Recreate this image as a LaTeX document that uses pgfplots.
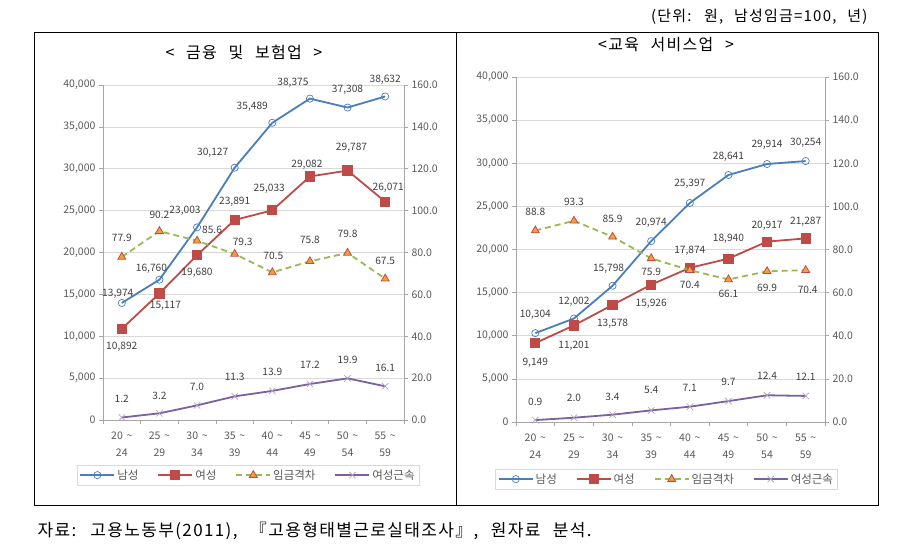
\documentclass[border=0pt]{standalone}
\usepackage{pgfplots}
\pgfplotsset{compat=1.18}
\usepackage{fontspec}
\setmainfont[WordSpace=1.6]{Noto Sans CJK KR}
\newfontfamily\widefont[WordSpace=2.4, LetterSpace=8]{Noto Sans CJK KR}
\definecolor{cBlue}{HTML}{4A7EBB}
\definecolor{cRed}{HTML}{BE4B48}
\definecolor{cGreen}{HTML}{98B954}
\definecolor{cOrange}{HTML}{F7A035}
\definecolor{cPurple}{HTML}{7D60A0}
\definecolor{cTxt}{HTML}{404040}
\definecolor{cTick}{HTML}{595959}
\definecolor{cAxis}{HTML}{A6A6A6}
\definecolor{cGrid}{HTML}{D9D9D9}
\pgfplotsset{
  base/.style={
    scale only axis, xmin=-0.5, xmax=7.5, clip=false,
    /pgf/number format/assume math mode=true,
    tick label style={font=\fontsize{10.5}{12}\selectfont, text=cTick},
    axis line style={cAxis, line width=0.6pt},
    major tick length=4pt, tick align=outside,
    tick style={cAxis, line width=0.6pt},
  },
  lbl/.style={
    nodes near coords,
    visualization depends on={value \thisrow{dx}\as\dx},
    visualization depends on={value \thisrow{dy}\as\dy},
    every node near coord/.append style={anchor=center, xshift=\dx pt, yshift=\dy pt,
      font=\fontsize{10.2}{12}\selectfont, text=cTxt, inner sep=0pt},
  },
  sMale/.style={cBlue, line width=1.8pt, mark=o, mark size=3.6pt, mark options={line width=0.7pt, fill=none, solid}},
  sFemale/.style={cRed, line width=1.8pt, mark=square*, mark size=4.2pt, mark options={solid, fill=cRed, draw=cRed}},
  sGap/.style={cGreen, line width=1.8pt, dash pattern=on 6pt off 4pt, mark=triangle*, mark size=4.5pt, mark options={solid, fill=cOrange, draw=cRed, line width=0.8pt}},
  sTen/.style={cPurple, line width=1.8pt, mark=x, mark size=4.5pt, mark options={solid, line width=0.7pt, draw=cPurple!60}},
  prim/.style={base,
    ymin=0, ymax=40000, ytick={0,5000,...,40000},
    scaled y ticks=false,
    yticklabel style={/pgf/number format/.cd, fixed, 1000 sep={,}},
    /pgf/number format/.cd, fixed, 1000 sep={,}, /pgfplots/.cd,
    axis x line*=bottom, axis y line*=left,
    ymajorgrids, grid style={cGrid, line width=0.6pt},
    xtick={-0.5,0.5,...,7.5}, xticklabels={,,,,,,,,,},
    extra x ticks={0,...,7},
    extra x tick labels={{20 \textasciitilde\\24},{25 \textasciitilde\\29},{30 \textasciitilde\\34},{35 \textasciitilde\\39},{40 \textasciitilde\\44},{45 \textasciitilde\\49},{50 \textasciitilde\\54},{55 \textasciitilde\\59}},
    extra x tick style={major tick length=0pt, tick label style={align=center, yshift=-8pt, font=\fontsize{10.5}{17}\selectfont}},
  },
  sec/.style={base,
    ymin=0, ymax=160, ytick={0,20,...,160},
    axis x line=none, axis y line*=right,
    /pgf/number format/.cd, fixed, fixed zerofill, precision=1, /pgfplots/.cd,
    legend columns=4,
    legend image code/.code={\draw[mark repeat=2, mark phase=2, ##1] plot coordinates {(0pt,0pt) (17pt,0pt) (34pt,0pt)};},
    legend style={draw=cGrid, font=\fontsize{11.5}{13}\selectfont, text=cTick, inner sep=2.5pt,
      /tikz/every even column/.append style={column sep=17pt}},
  },
}
\begin{document}
\begin{tikzpicture}
\useasboundingbox (0pt,0pt) rectangle (917pt,-550pt);
\draw[black, line width=0.8pt] (34pt,-32pt) rectangle (456pt,-505pt);
\draw[black, line width=0.8pt] (456pt,-32pt) rectangle (878pt,-505pt);
\node[anchor=east, font=\fontsize{15}{17}\widefont] at (871pt,-17pt) {(단위: 원, 남성임금=100, 년)};
\node[anchor=west, font=\fontsize{17}{19}\widefont] at (34pt,-531pt) {자료: 고용노동부(2011), 『고용형태별근로실태조사』, 원자료 분석.};
\node[font=\fontsize{16}{18}\widefont] at (244pt,-52pt) {< 금융 및 보험업 >};
\node[font=\fontsize{16}{18}\widefont] at (666pt,-45pt) {<교육 서비스업 >};

% ---------- left panel ----------
\begin{axis}[prim, at={(103pt,-420pt)}, anchor=south west, width=301pt, height=335pt]
\addplot[sMale, lbl] table {
x y dx dy
0 13974 -4 9
1 16760 -8 11
2 23003 -12 17
3 30127 -22 15
4 35489 -20 16
5 38375 -17 16
6 37308 0 18
7 38632 0 17
};
\addplot[sFemale, lbl] table {
x y dx dy
0 10892 0 -18
1 15117 6 -12
2 19680 0 -18
3 23891 0 18
4 25033 -3 22
5 29082 -3 12
6 29787 4 23
7 26071 3 14
};
\end{axis}
\begin{axis}[sec, at={(103pt,-420pt)}, anchor=south west, width=301pt, height=335pt,
  legend style={at={(axis description cs:0.482,-0.134)}, anchor=north}]
\addlegendimage{sMale}\addlegendentry{남성}
\addlegendimage{sFemale}\addlegendentry{여성}
\addplot[sGap, lbl] table {
x y dx dy
0 77.9 0 19
1 90.2 0 16
2 85.6 15 11
3 79.3 8 12
4 70.5 1 17
5 75.8 0 21
6 79.8 0 19
7 67.5 0 18
};
\addlegendentry{임금격차}
\addplot[sTen, lbl] table {
x y dx dy
0 1.2 0 19
1 3.2 0 17
2 7.0 0 18
3 11.3 0 19
4 13.9 0 19
5 17.2 0 19
6 19.9 0 18
7 16.1 0 18
};
\addlegendentry{여성근속}
\end{axis}

% ---------- right panel ----------
\begin{axis}[prim, at={(516pt,-422pt)}, anchor=south west, width=309pt, height=345pt]
\addplot[sMale, lbl] table {
x y dx dy
0 10304 0 18
1 12002 0 17
2 15798 -4 17
3 20974 0 18
4 25397 0 19
5 28641 0 18
6 29914 0 19
7 30254 0 18
};
\addplot[sFemale, lbl] table {
x y dx dy
0 9149 0 -20
1 11201 0 -20
2 13578 0 -19
3 15926 0 -19
4 17874 0 17
5 18940 0 20
6 20917 0 16
7 21287 0 17
};
\end{axis}
\begin{axis}[sec, at={(516pt,-422pt)}, anchor=south west, width=309pt, height=345pt,
  legend style={at={(axis description cs:0.487,-0.136)}, anchor=north}]
\addlegendimage{sMale}\addlegendentry{남성}
\addlegendimage{sFemale}\addlegendentry{여성}
\addplot[sGap, lbl] table {
x y dx dy
0 88.8 0 19
1 93.3 0 19
2 85.9 0 18
3 75.9 0 -14
4 70.4 0 -15
5 66.1 0 -14
6 69.9 0 -17
7 70.4 2 -20
};
\addlegendentry{임금격차}
\addplot[sTen, lbl] table {
x y dx dy
0 0.9 0 18
1 2.0 0 20
2 3.4 0 18
3 5.4 0 20
4 7.1 0 19
5 9.7 0 19
6 12.4 0 19
7 12.1 0 19
};
\addlegendentry{여성근속}
\end{axis}
\end{tikzpicture}
\end{document}
